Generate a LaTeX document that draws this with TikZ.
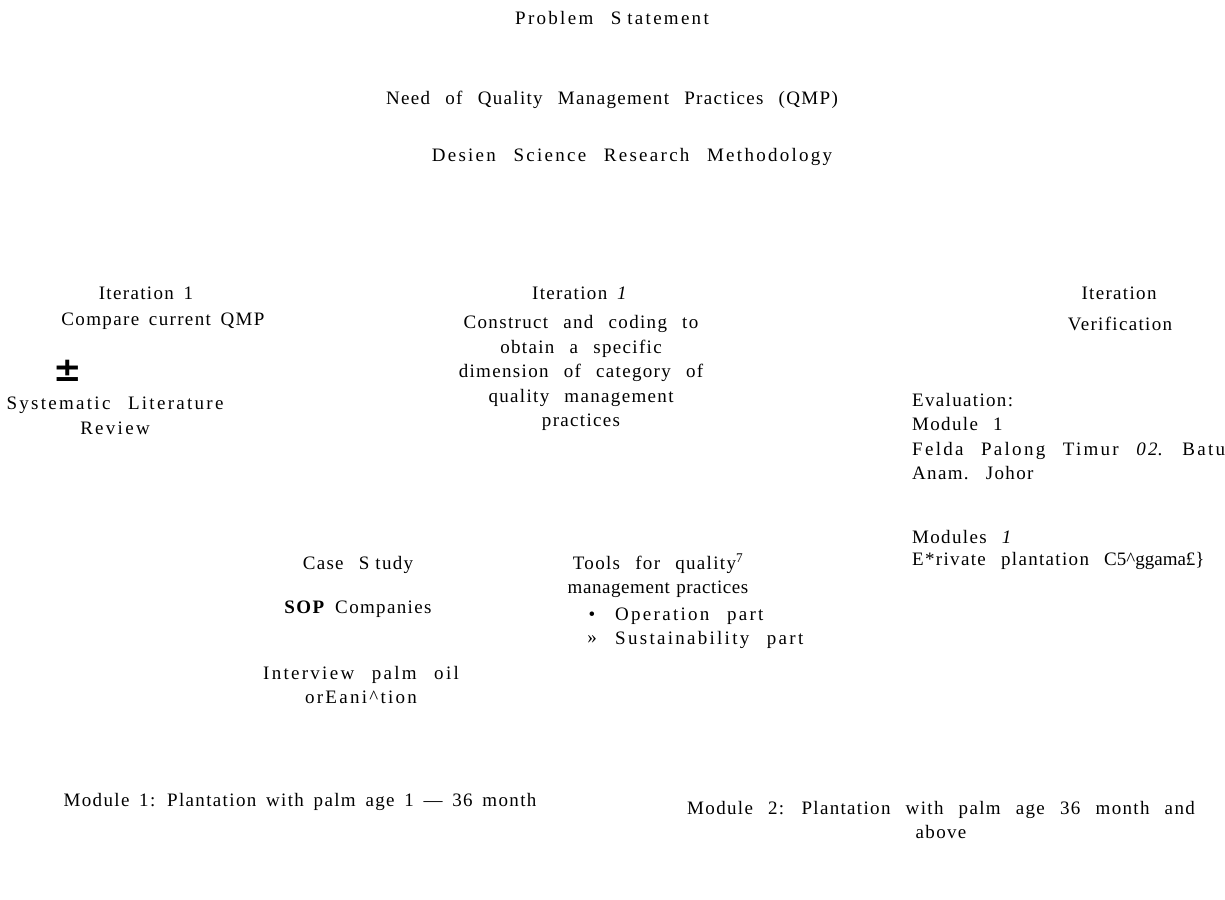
\documentclass[tikz,border=0pt]{standalone}
\usepackage{fontspec}
\setmainfont{Liberation Serif}
\newfontfamily\fa[LetterSpace=7,WordSpace=2.5]{Liberation Serif}
\newfontfamily\fb[LetterSpace=7.1,WordSpace=1.6]{Liberation Serif}
\newfontfamily\fc[LetterSpace=12,WordSpace=2.5]{Liberation Serif}
\newfontfamily\fd[LetterSpace=3,WordSpace=1.2]{Liberation Serif}
\newfontfamily\tight{Liberation Serif}
\newfontfamily\symf{DejaVu Sans}
\begin{document}
\begin{tikzpicture}[x=1pt,y=-1pt,
  txt/.style={inner sep=0pt,font=\fontsize{19}{24.5}\fa,text=black,align=center},
  lefttxt/.style={txt,align=left,anchor=west}]
\useasboundingbox (0,0) rectangle (1225,899);
\node[txt,font=\fontsize{19}{24.5}\fc] (ps) at (612,18) {Problem S\hspace{6pt}tatement};
\node[txt] (need) at (612,100) {Need of Quality Management Practices (QMP)};
\node[txt,font=\fontsize{19}{24.5}\fc] (dsrm) at (632,157) {Desien Science Research Methodology};

\node[txt,font=\fontsize{19}{24.5}\fb] (it1) at (146,293) {Iteration 1};
\node[txt,font=\fontsize{19}{24.5}\fb] (cmp) at (163,321) {Compare current QMP};
\node[inner sep=0pt,font=\fontsize{34}{34}\symf\bfseries] (pm) at (68,371) {±};
\node[txt,font=\fontsize{19}{24.5}\fc] (slr) at (115,416) {Systematic Literature\\Review};

\node[txt,font=\fontsize{19}{24.5}\fb] (it2) at (580,293) {Iteration \textit{1}};
\node[txt] (cons) at (581,373) {Construct and coding to\\obtain a specific\\dimension of category of\\quality management\\practices};

\node[txt] (it3) at (1119,293) {Iteration};
\node[txt] (ver) at (1120,324) {Verification};
\node[lefttxt,anchor=north west] (eval) at (912,393) {Evaluation:\\Module 1\\{\fc Felda Palong Timur \textit{02}. Batu}\\Anam. Johor};
\node[lefttxt] (mods) at (912,537) {Modules \textit{1}};
\node[lefttxt] (priv) at (912,561) {E*rivate plantation {\tight C5\^{}ggama£\}}};

\node[txt] (tools) at (658,576) {Tools for quality\textsuperscript{7}\\{\fd management practices}};
\node[txt,anchor=center] (b1) at (592,616) {•};
\node[lefttxt,font=\fontsize{19}{24.5}\fc] (op) at (615,616) {Operation part};
\node[txt,anchor=center] (b2) at (592,640) {»};
\node[lefttxt,font=\fontsize{19}{24.5}\fc] (sus) at (615,640) {Sustainability part};

\node[txt] (cs) at (358,565) {Case S\hspace{6pt}tudy};
\node[txt,font=\fontsize{19}{24.5}\fb] (sop) at (358,609) {\textbf{SOP} Companies};
\node[txt,font=\fontsize{19}{24.5}\fc] (int) at (361,685) {Interview palm oil\\orEani\^{}tion};

\node[txt,font=\fontsize{19}{24.5}\fb] (m1) at (300,802) {Module 1: Plantation with palm age 1 — 36 month};
\node[txt] (m2) at (941,820) {Module 2: Plantation with palm age 36 month and\\above};
\end{tikzpicture}
\end{document}
